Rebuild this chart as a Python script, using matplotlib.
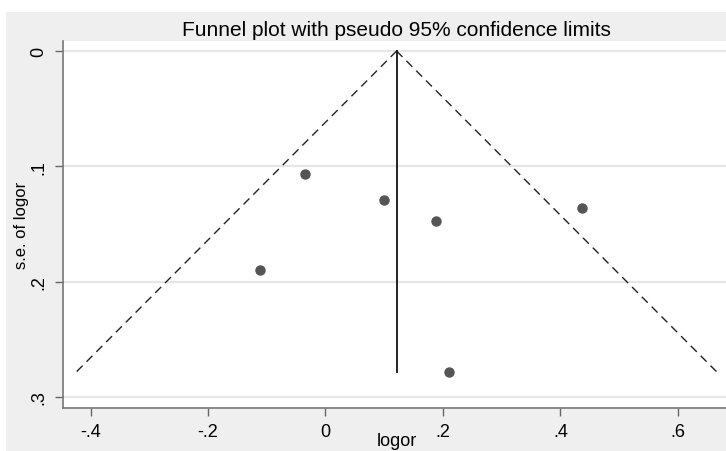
import numpy as np
import matplotlib
matplotlib.use("Agg")
import matplotlib.pyplot as plt
from matplotlib.patches import Rectangle

plt.rcParams['font.family'] = ['Liberation Sans', 'DejaVu Sans']

# study estimates
logor = [-0.112, -0.035, 0.099, 0.189, 0.210, 0.4375]
se_logor = [0.190, 0.107, 0.129, 0.147, 0.278, 0.136]

x_ticks = [-0.4, -0.2, 0, 0.2, 0.4, 0.6]
x_labels = ['-.4', '-.2', '0', '.2', '.4', '.6']
y_ticks = [0, 0.1, 0.2, 0.3]
y_labels = ['0', '.1', '.2', '.3']

# fixed effect pooled estimate -> centre of the funnel
w = 1 / np.array(se_logor) ** 2
theta = np.sum(w * np.array(logor)) / np.sum(w)
se_max = max(se_logor)

fig = plt.figure(figsize=(7.26, 4.52), dpi=100)
fig.patch.set_facecolor('white')
# stata style grey background
fig.patches.append(Rectangle((6 / 726, 0), 1, (452 - 13) / 452,
                             transform=fig.transFigure, facecolor='#efefef',
                             edgecolor='none', zorder=-5))

ax = fig.add_axes([63 / 726, 43 / 452, 1 - 63 / 726, (409 - 42) / 452])
ax.set_facecolor('white')

for yv in y_ticks:
    ax.axhline(yv, color='#e6e6e6', lw=1.6, zorder=1)

# pseudo 95% limits
se_line = np.array([0, se_max])
ax.plot(theta - 1.96 * se_line, se_line, color='#222222', lw=1, ls=(0, (6, 4)), zorder=2)
ax.plot(theta + 1.96 * se_line, se_line, color='#222222', lw=1, ls=(0, (6, 4)), zorder=2)
ax.plot([theta, theta], [0, se_max], color='#111111', lw=1.3, zorder=2)

ax.plot(logor, se_logor, 'o', color='#555555', markersize=6.5, zorder=3)

ax.set_xlim(-0.447, 0.682)
ax.set_ylim(0.3095, -0.0087)

ax.set_xticks(x_ticks)
ax.set_xticklabels(x_labels, fontsize=13)
ax.set_yticks(y_ticks)
ax.set_yticklabels(y_labels, fontsize=13, rotation=90, va='center')

ax.tick_params(axis='both', direction='out', length=6, width=1, color='#666666', pad=5)
for side in ['top', 'right']:
    ax.spines[side].set_visible(False)
for side in ['left', 'bottom']:
    ax.spines[side].set_color('#777777')
    ax.spines[side].set_linewidth(1.2)

# axis titles placed by hand like stata does
fig.text(397 / 726, 1 - 442 / 452, 'logor', ha='center', va='center', fontsize=13)
fig.text(22 / 726, 1 - 225 / 452, 's.e. of logor', ha='center', va='center',
         rotation=90, fontsize=12)
fig.text(396 / 726, 1 - 30 / 452, 'Funnel plot with pseudo 95% confidence limits',
         ha='center', va='center', fontsize=15)

fig.savefig('out.png', dpi=100)
